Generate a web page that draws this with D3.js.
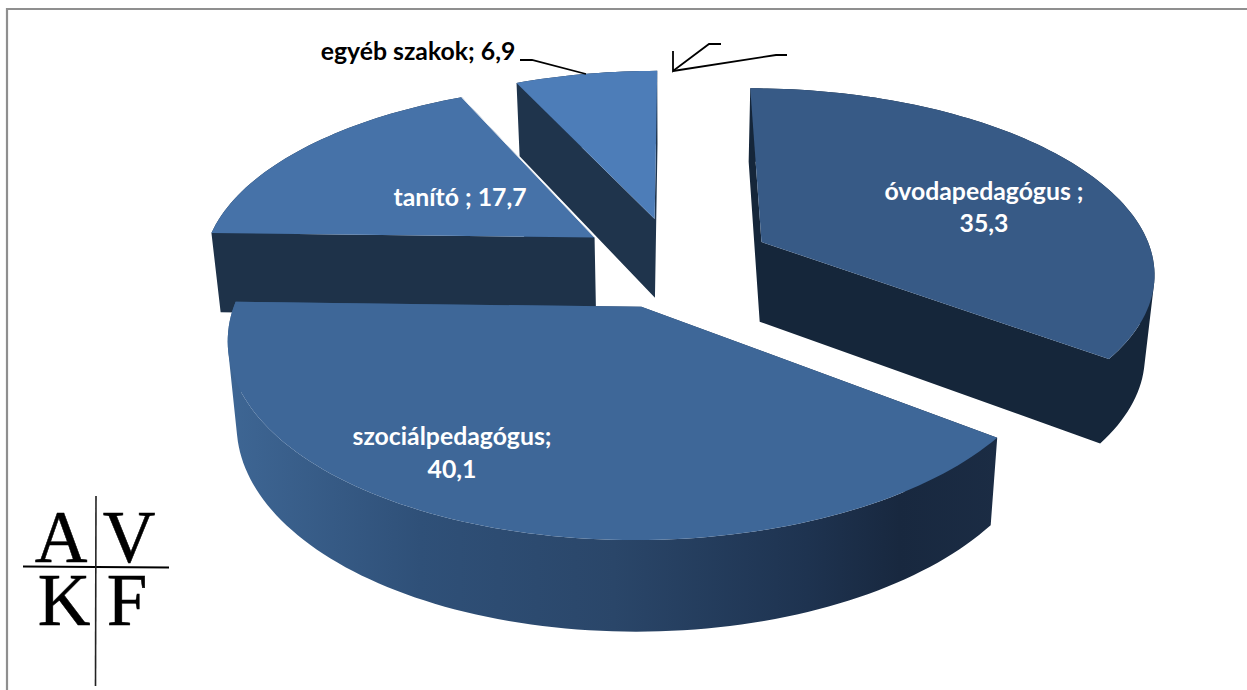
<!DOCTYPE html>
<html><head><meta charset="utf-8">
<script src="https://cdn.jsdelivr.net/npm/d3@7/dist/d3.min.js"></script>
<style>html,body{margin:0;padding:0;background:#fff;overflow:hidden}svg{display:block}
text{font-family:Lato,"Open Sans",sans-serif;font-weight:700}</style>
</head><body><script>
const categories = ["óvodapedagógus","szociálpedagógus","tanító","egyéb szakok"];
const values = [35.3,40.1,17.7,6.9];
const topColors = ["#375a86","#3e6798","#4672a8","#4d7db8"];
const sideColors = ["#15263a","#1c304a","#1e3249","#1f344c"];
const labelLines = [["óvodapedagógus ;","35,3"],["szociálpedagógus;","40,1"],["tanító ; 17,7"],["egyéb szakok; 6,9"]];

const W=1247,H=690;
const svg=d3.select("body").append("svg").attr("width",W).attr("height",H);
const cx=675,cy=262,Rx=393,Ry=182.7,persp=0.152,explode=0.25;
const project=([X,Y])=>{const w=1+persp*Y;return [cx+Rx*X/w,cy-Ry*Y/w];};
const drop=([x,y])=>[671+0.98*(x-671),1.04*y+70];
const pie=d3.pie().sort(null).startAngle(0).endAngle(2*Math.PI).value(d=>d)(values);
const line=d3.line();

const defs=svg.append("defs");
const grad=defs.append("linearGradient").attr("id","wall").attr("gradientUnits","userSpaceOnUse")
  .attr("x1",228).attr("x2",1000).attr("y1",0).attr("y2",0);
[[0,"#3e6694"],[0.25,"#2f5078"],[0.5,"#2a4669"],[0.75,"#1e3350"],[0.87,"#18283f"],[1,"#1b2c44"]]
 .forEach(([o,c])=>grad.append("stop").attr("offset",o).attr("stop-color",c));

// frame
svg.append("path").attr("d",line([[7,690],[7,9],[1247,9]])).attr("fill","none").attr("stroke","#8f8f8f").attr("stroke-width",2.2);

function slicePts(d){
  const mid=(d.startAngle+d.endAngle)/2;
  const ox=explode*Math.sin(mid),oy=explode*Math.cos(mid);
  const n=Math.max(8,Math.round((d.endAngle-d.startAngle)*40));
  const arc=d3.range(n+1).map(k=>{
    const t=d.startAngle+(d.endAngle-d.startAngle)*k/n;
    return project([ox+Math.sin(t),oy+Math.cos(t)]);
  });
  return {apex:project([ox,oy]),arc};
}
// a side panel hanging below the edge a-b, always wound the same way so the union fills solidly
const panel=(a,b)=>{
  const q=[a,b,drop(b),drop(a)];
  if(d3.polygonArea(q)<0) q.reverse();
  return line(q)+"Z";
};
const order=[3,2,0,1];
order.forEach(i=>{
  const {apex,arc}=slicePts(pie[i]);
  const g=svg.append("g").attr("class","slice").attr("data-cat",categories[i]);
  const last=arc[arc.length-1];
  const d=[panel(apex,arc[0]),panel(apex,last)];
  d3.pairs(arc).forEach(([a,b])=>d.push(panel(a,b)));
  const wf=i===1?"url(#wall)":sideColors[i];
  g.append("path").attr("d",d.join("")).attr("fill",wf).attr("fill-rule","nonzero");
  g.append("path").attr("d",line([apex,...arc])+"Z").attr("fill",topColors[i]);
  if(i===2) g.append("path").attr("d",line([apex,last])).attr("stroke","#e4eaf2").attr("stroke-width",1).attr("fill","none");
});

// labels
const fs=24.8;
const labelPos=[[984,200,32],[452,445,33],[460,206,0],[418,60,0]];
labelLines.forEach((ls,i)=>{
  const [x,y,dy]=labelPos[i];
  ls.forEach((t,k)=>svg.append("text").attr("x",x).attr("y",y+k*dy).attr("text-anchor","middle")
    .attr("font-size",fs).attr("fill",i===3?"#000":"#fff").text(t));
});

// leader and pointer strokes
const strokes=[
 [[520,60],[532,60],[586,74]],
 [[673,51],[673,71],[709,44],[721,44]],
 [[673,71],[776,55],[787,55]]
];
strokes.forEach(s=>svg.append("path").attr("d",line(s)).attr("fill","none").attr("stroke","#000").attr("stroke-width",1.8));

// logo
const logo=svg.append("g");
[["A",61,562],["V",129,562],["K",64,625],["F",127,625]].forEach(([t,x,y])=>
 logo.append("text").attr("x",x).attr("y",y).attr("text-anchor","middle")
  .style("font-family","'Liberation Serif',serif").style("font-weight","400")
  .attr("font-size",73).attr("fill","#000").attr("stroke","#000").attr("stroke-width",0.5).text(t));
logo.append("path").attr("d",line([[23,566.5],[169,567.5]])).attr("stroke","#000").attr("stroke-width",1.8).attr("fill","none");
logo.append("path").attr("d",line([[96,496],[95.5,686]])).attr("stroke","#222").attr("stroke-width",1.6).attr("fill","none");
</script></body></html>
